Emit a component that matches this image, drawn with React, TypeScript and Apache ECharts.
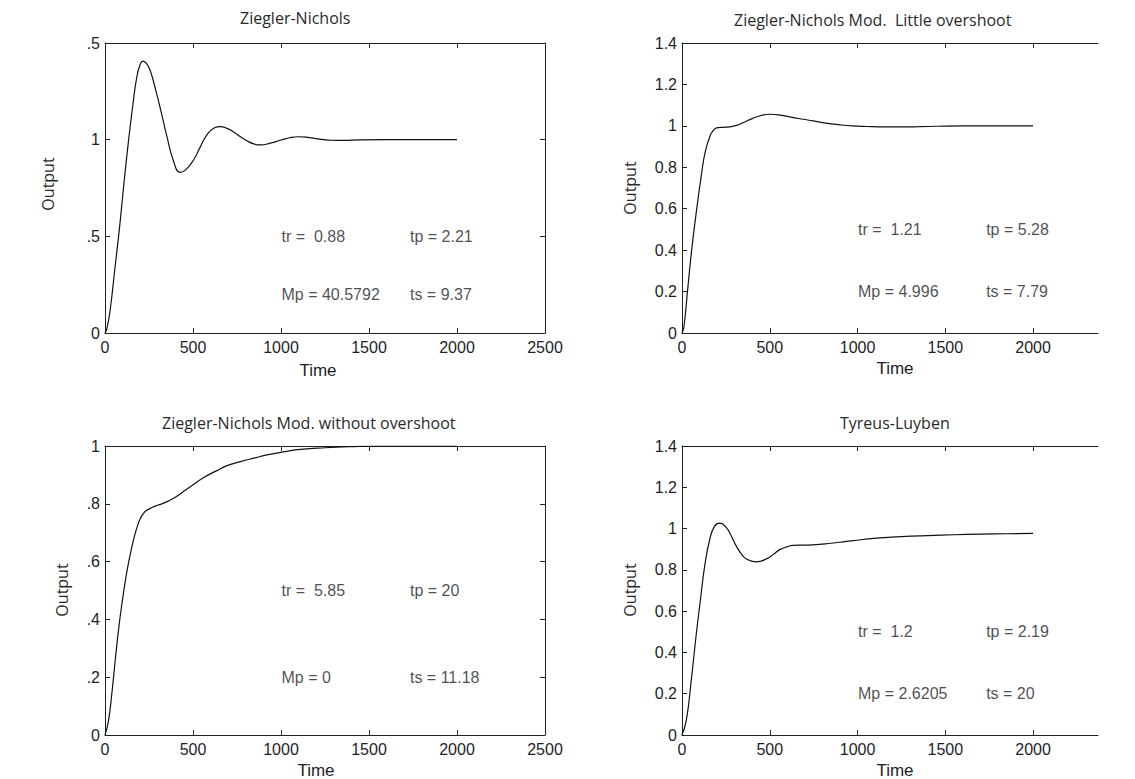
import React, { useEffect, useRef } from "react";
import * as echarts from "echarts";

// ---------- data ----------
const znTime = [0, 10, 28, 57, 82, 105, 133, 161, 180, 200, 215, 235, 256, 290, 320, 351, 389, 427, 460, 503, 540, 579, 620, 655, 690, 731, 770, 807, 845, 883, 940, 997, 1050, 1100, 1160, 1220, 1290, 1350, 1450, 1600, 1800, 2000];
const znOutput = [0, 0.02, 0.11, 0.34, 0.54, 0.75, 0.99, 1.2, 1.32, 1.39, 1.406, 1.395, 1.36, 1.25, 1.14, 1.02, 0.89, 0.831, 0.845, 0.895, 0.96, 1.025, 1.06, 1.067, 1.06, 1.04, 1.015, 0.994, 0.978, 0.973, 0.982, 0.997, 1.01, 1.015, 1.011, 1.003, 0.997, 0.996, 0.999, 1.0, 1.0, 1.0];

const znLittleTime = [0, 11, 30, 55, 87, 110, 131, 159, 180, 197, 230, 270, 311, 350, 400, 450, 501, 560, 620, 690, 748, 820, 900, 970, 1052, 1150, 1250, 1350, 1450, 1600, 1800, 2000];
const znLittleOutput = [0, 0.03, 0.19, 0.4, 0.62, 0.76, 0.87, 0.95, 0.98, 0.99, 0.993, 0.995, 1.002, 1.016, 1.035, 1.05, 1.056, 1.052, 1.042, 1.032, 1.024, 1.013, 1.005, 1.0, 0.997, 0.995, 0.995, 0.996, 0.998, 1.0, 1.0, 1.0];

const znNoOverTime = [0, 20, 40, 60, 80, 100, 120, 140, 160, 180, 200, 220, 238, 270, 295, 340, 390, 466, 561, 630, 694, 770, 846, 920, 998, 1112, 1250, 1400, 1550, 1700, 1850, 2000];
const znNoOverOutput = [0, 0.05, 0.15, 0.27, 0.38, 0.47, 0.55, 0.615, 0.67, 0.715, 0.748, 0.768, 0.778, 0.788, 0.794, 0.804, 0.819, 0.851, 0.891, 0.913, 0.932, 0.946, 0.958, 0.969, 0.978, 0.988, 0.994, 0.998, 1.0, 1.0, 1.0, 1.0];

const tlTime = [0, 25, 53, 82, 105, 129, 158, 186, 215, 253, 280, 310, 340, 367, 424, 481, 520, 557, 600, 632, 700, 746, 850, 937, 1030, 1127, 1250, 1400, 1550, 1700, 1850, 2000];
const tlOutput = [0, 0.073, 0.267, 0.494, 0.655, 0.817, 0.947, 1.012, 1.026, 1.005, 0.965, 0.914, 0.875, 0.853, 0.839, 0.853, 0.875, 0.898, 0.912, 0.919, 0.92, 0.921, 0.929, 0.938, 0.947, 0.955, 0.961, 0.966, 0.97, 0.973, 0.975, 0.977];

const xTicksFull = [0, 500, 1000, 1500, 2000, 2500];
const xTicksPartial = [0, 500, 1000, 1500, 2000];

const znYTicks = [0, 0.5, 1, 1.5];
const znYTickLabels = ["0", ".5", "1", ".5"];
const littleYTicks = [0, 0.2, 0.4, 0.6, 0.8, 1, 1.2, 1.4];
const littleYTickLabels = ["0", "0.2", "0.4", "0.6", "0.8", "1", "1.2", "1.4"];
const noOverYTicks = [0, 0.2, 0.4, 0.6, 0.8, 1];
const noOverYTickLabels = ["0", ".2", ".4", ".6", ".8", "1"];
const tlYTicks = [0, 0.2, 0.4, 0.6, 0.8, 1, 1.2, 1.4];
const tlYTickLabels = ["0", "0.2", "0.4", "0.6", "0.8", "1", "1.2", "1.4"];

const titles = [
  "Ziegler-Nichols",
  "Ziegler-Nichols Mod.  Little overshoot",
  "Ziegler-Nichols Mod. without overshoot",
  "Tyreus-Luyben",
];

const annotationX = [1000, 1730];
const annotationY = [0.5, 0.2];
const znNotes = ["tr =  0.88", "tp = 2.21", "Mp = 40.5792", "ts = 9.37"];
const littleNotes = ["tr =  1.21", "tp = 5.28", "Mp = 4.996", "ts = 7.79"];
const noOverNotes = ["tr =  5.85", "tp = 20", "Mp = 0", "ts = 11.18"];
const tlNotes = ["tr =  1.2", "tp = 2.19", "Mp = 2.6205", "ts = 20"];

const xAxisName = "Time";
const yAxisName = "Output";

// ---------- component ----------
const TICK_FONT = '"Liberation Sans", Arial, sans-serif';
const TITLE_FONT = '"Open Sans", sans-serif';
const INK = "#1e1e28";
const FS = 16;

function labelFor(ticks: number[], labels: string[]) {
  return (v: number) => {
    const i = ticks.findIndex((t) => Math.abs(t - v) < 1e-9);
    return i >= 0 ? labels[i] : "";
  };
}

export default function App() {
  const ref = useRef<HTMLDivElement>(null);

  useEffect(() => {
    if (!ref.current) return;
    const chart = echarts.init(ref.current, undefined, { renderer: "svg" });

    const panels = [
      { left: 105, top: 43, width: 440, height: 290, xMax: 2500, xTicks: xTicksFull, yMax: 1.5, yTicks: znYTicks, yLabels: znYTickLabels, rightAxis: true, time: znTime, out: znOutput, notes: znNotes, title: { x: 240, y: 18 }, ylab: { x: 48, y: 184 }, xlab: { x: 318, y: 370 } },
      { left: 682, top: 43, width: 416, height: 290, xMax: 2370, xTicks: xTicksPartial, yMax: 1.4, yTicks: littleYTicks, yLabels: littleYTickLabels, rightAxis: false, time: znLittleTime, out: znLittleOutput, notes: littleNotes, title: { x: 734, y: 20 }, ylab: { x: 630, y: 188 }, xlab: { x: 895, y: 368 } },
      { left: 105, top: 446, width: 440, height: 289, xMax: 2500, xTicks: xTicksFull, yMax: 1, yTicks: noOverYTicks, yLabels: noOverYTickLabels, rightAxis: true, time: znNoOverTime, out: znNoOverOutput, notes: noOverNotes, title: { x: 162, y: 423 }, ylab: { x: 62, y: 590 }, xlab: { x: 316, y: 770 } },
      { left: 682, top: 446, width: 416, height: 289, xMax: 2370, xTicks: xTicksPartial, yMax: 1.4, yTicks: tlYTicks, yLabels: tlYTickLabels, rightAxis: false, time: tlTime, out: tlOutput, notes: tlNotes, title: { x: 840, y: 423 }, ylab: { x: 630, y: 590 }, xlab: { x: 895, y: 770 } },
    ];

    const grid: any[] = [];
    const xAxis: any[] = [];
    const yAxis: any[] = [];
    const series: any[] = [];
    const graphic: any[] = [];

    const lineStyle = { color: "#222", width: 1 };

    panels.forEach((p, i) => {
      grid.push({ left: p.left, top: p.top, width: p.width, height: p.height, containLabel: false });
      const bottomIdx = xAxis.length;
      xAxis.push({
        gridIndex: i, type: "value", min: 0, max: p.xMax, position: "bottom",
        axisLine: { show: true, onZero: false, lineStyle },
        axisTick: { show: true, inside: true, length: 5, customValues: p.xTicks, lineStyle },
        axisLabel: { show: true, customValues: p.xTicks, formatter: (v: number) => String(Math.round(v)), color: INK, fontFamily: TICK_FONT, fontSize: FS, margin: 6 },
        splitLine: { show: false },
      });
      xAxis.push({
        gridIndex: i, type: "value", min: 0, max: p.xMax, position: "top",
        axisLine: { show: true, onZero: false, lineStyle },
        axisTick: { show: true, inside: true, length: 5, customValues: p.xTicks, lineStyle },
        axisLabel: { show: false },
        splitLine: { show: false },
      });
      const leftIdx = yAxis.length;
      const fmt = labelFor(p.yTicks, p.yLabels);
      yAxis.push({
        gridIndex: i, type: "value", min: 0, max: p.yMax, position: "left",
        axisLine: { show: true, onZero: false, lineStyle },
        axisTick: { show: true, inside: true, length: 5, customValues: p.yTicks, lineStyle },
        axisLabel: { show: true, customValues: p.yTicks, formatter: fmt, color: INK, fontFamily: TICK_FONT, fontSize: FS, margin: 5 },
        splitLine: { show: false },
      });
      if (p.rightAxis) {
        yAxis.push({
          gridIndex: i, type: "value", min: 0, max: p.yMax, position: "right",
          axisLine: { show: true, onZero: false, lineStyle },
          axisTick: { show: true, inside: true, length: 5, customValues: p.yTicks, lineStyle },
          axisLabel: { show: false },
          splitLine: { show: false },
        });
      }

      series.push({
        type: "line",
        xAxisIndex: bottomIdx,
        yAxisIndex: leftIdx,
        data: p.time.map((t, k) => [t, p.out[k]]),
        showSymbol: false,
        smooth: 0.5,
        lineStyle: { color: "#111", width: 1.2 },
        silent: true,
      });

      series.push({
        type: "scatter",
        xAxisIndex: bottomIdx,
        yAxisIndex: leftIdx,
        symbolSize: 1,
        itemStyle: { color: "rgba(0,0,0,0)" },
        silent: true,
        data: p.notes.map((txt, k) => ({
          name: txt,
          value: [annotationX[k % 2], annotationY[Math.floor(k / 2)]],
        })),
        label: {
          show: true, position: "right", distance: 0, formatter: "{b}",
          color: INK, fontFamily: TICK_FONT, fontSize: FS,
        },
      });

      graphic.push({
        type: "text", x: p.title.x, y: p.title.y,
        style: { text: titles[i], font: `16px ${TITLE_FONT}`, fill: "#2a2a2a", textAlign: "left", align: "left", textVerticalAlign: "middle", verticalAlign: "middle" },
      });
      graphic.push({
        type: "text", x: p.ylab.x, y: p.ylab.y, rotation: Math.PI / 2,
        style: { text: yAxisName, font: `16px ${TITLE_FONT}`, fill: "#2a2a2a", textAlign: "center", align: "center", textVerticalAlign: "middle", verticalAlign: "middle" },
      });
      graphic.push({
        type: "text", x: p.xlab.x, y: p.xlab.y,
        style: { text: xAxisName, font: `17px ${TICK_FONT}`, fill: INK, textAlign: "center", align: "center", textVerticalAlign: "middle", verticalAlign: "middle" },
      });
    });

    chart.setOption({
      animation: false,
      backgroundColor: "#ffffff",
      grid, xAxis, yAxis, series, graphic,
    });

    return () => chart.dispose();
  }, []);

  return (
    <div
      ref={ref}
      style={{ position: "absolute", left: 0, top: 0, width: 1135, height: 779, background: "#fff" }}
    />
  );
}
